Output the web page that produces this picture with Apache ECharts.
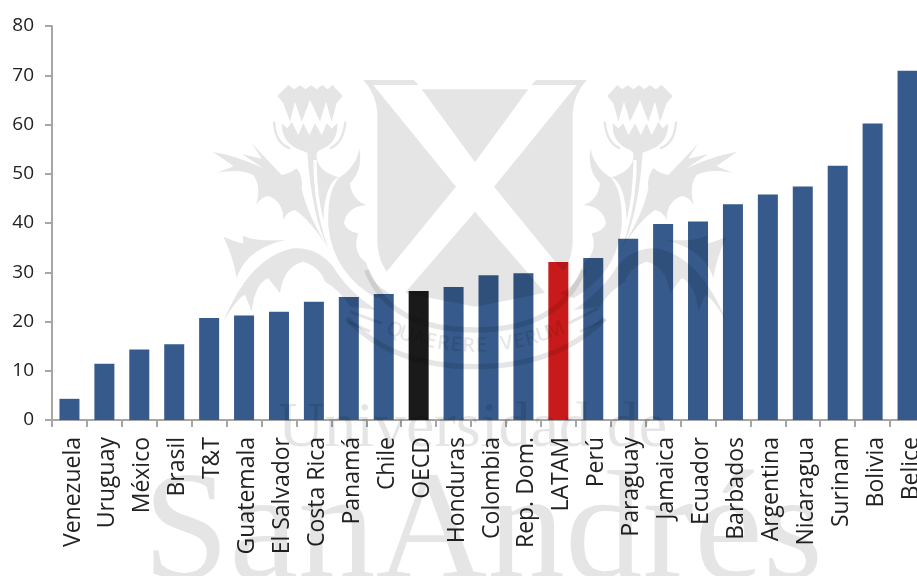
<!DOCTYPE html>
<html><head><meta charset="utf-8">
<style>html,body{margin:0;padding:0;background:#fff;overflow:hidden}#c{width:917px;height:576px}</style>
<script src="https://cdn.jsdelivr.net/npm/echarts@6/dist/echarts.min.js"></script>
</head><body><div id="c"></div>
<script>
const categories = ["Venezuela","Uruguay","México","Brasil","T&T","Guatemala","El Salvador","Costa Rica","Panamá","Chile","OECD","Honduras","Colombia","Rep. Dom.","LATAM","Perú","Paraguay","Jamaica","Ecuador","Barbados","Argentina","Nicaragua","Surinam","Bolivia","Belice"];
const values = [4.3,11.4,14.3,15.4,20.7,21.2,22,24,25,25.6,26.2,27,29.4,29.8,32.1,32.9,36.8,39.8,40.3,43.8,45.8,47.4,51.6,60.2,70.9];
const barColor = "#365a8b", oecdColor = "#1a1a1a", latamColor = "#c81a1a";
const yTicks = {min:0,max:80,interval:10};
const wm = "rgba(0,0,0,0.1)";

/* Watermark artwork (decoration only) */
const shieldPath = "M215 58 L535 58 L375 277 Z "+
  "M40 30 L192 30 L205 45 L70 45 L318 350 L110 605 Q85 570 82 520 L82 130 Q80 75 40 30 Z "+
  "M710 30 L558 30 L545 45 L680 45 L432 350 L640 605 Q665 570 668 520 L668 130 Q670 75 710 30 Z "+
  "M375 425 L165 668 Q270 690 375 710 Q480 690 585 668 Z";
const thistlePath =
  "M232 108 L265 75 L283 88 L300 75 L317 88 L333 75 L350 88 L367 75 L383 88 L398 75 L428 108 L410 130 L395 185 L378 125 L360 185 L330 120 L305 185 L285 125 L270 185 L250 130 Z "+
  "M245 190 L262 205 L275 185 L295 225 L310 190 L328 225 L345 190 L365 225 L380 190 L395 205 L412 190 Q415 250 360 270 L350 278 L322 278 L300 270 Q245 250 245 190 Z "+
  "M322 278 L350 278 Q345 330 415 352 Q375 370 370 480 Q350 400 350 300 L340 300 Q340 440 385 565 Q335 470 322 278 Z "+
  "M38 275 Q120 290 190 325 L125 282 L185 296 L155 250 L245 345 Q270 340 290 325 Q310 350 305 385 Q320 460 385 565 Q330 480 285 450 Q260 455 250 480 Q250 425 205 408 Q185 410 168 435 Q185 380 160 345 Q120 325 50 338 Q90 325 100 318 Z "+
  "M70 530 Q105 545 130 550 L128 525 Q150 545 255 540 Q190 555 150 590 Q120 620 110 655 Q100 590 70 530 Z "+
  "M70 785 Q115 710 135 705 L155 755 Q165 670 205 655 L240 700 Q250 620 310 605 Q360 620 375 665 Q420 690 450 740 L530 750 Q440 690 400 620 Q350 560 280 565 Q150 590 70 785 Z "+
  "M478 265 Q490 330 450 370 Q455 420 500 435 Q440 440 432 490 Q440 515 475 520 Q460 560 480 590 L500 610 Q510 670 570 700 L530 715 Q400 640 385 500 Q380 400 415 355 Q470 320 478 265 Z";
const thistleCurves = "M222 185 Q225 250 270 265 M436 185 Q430 250 390 265";
const ringCurves = "M50 600 Q120 780 375 780 Q630 780 700 600 M-10 745 Q130 890 375 890 Q620 890 765 745";
const ringStripes = "M0 725 L95 760 M-5 755 L60 785 M655 760 L745 715 M690 785 L765 750";
const motto = "QUAERERE VERUM";

const shapes = {wmShield:shieldPath, wmThistle:thistlePath, wmCurves:thistleCurves, wmRing:ringCurves, wmStripes:ringStripes};
Object.keys(shapes).forEach(k => echarts.graphic.registerShape(k, echarts.graphic.extendPath(shapes[k])));

const wmGraphics = [
  {type:'text',z:100,silent:true,left:278,top:397,style:{text:'Universidad de',font:'64px "Liberation Serif"',fill:wm}},
  {type:'text',z:100,silent:true,left:143,top:459,style:{text:'SanAndrés',font:'155px "Liberation Serif"',fill:wm}},
  {type:'wmShield',z:100,silent:true,x:350,y:70,scaleX:1/3,scaleY:1/3,style:{fill:wm,stroke:'none'}},
  {type:'wmThistle',z:100,silent:true,x:200,y:60,scaleX:1/3,scaleY:1/3,style:{fill:wm,stroke:'none'}},
  {type:'wmThistle',z:100,silent:true,x:750,y:60,scaleX:-1/3,scaleY:1/3,style:{fill:wm,stroke:'none'}},
  {type:'wmCurves',z:100,silent:true,x:200,y:60,scaleX:1/3,scaleY:1/3,style:{fill:'none',stroke:wm,lineWidth:7}},
  {type:'wmCurves',z:100,silent:true,x:750,y:60,scaleX:-1/3,scaleY:1/3,style:{fill:'none',stroke:wm,lineWidth:7}},
  {type:'wmRing',z:100,silent:true,x:350,y:70,scaleX:1/3,scaleY:1/3,style:{fill:'none',stroke:wm,lineWidth:16}},
  {type:'wmStripes',z:100,silent:true,x:350,y:70,scaleX:1/3,scaleY:1/3,style:{fill:'none',stroke:wm,lineWidth:9}}
];
const R = 217, cx = 475, cy = 346 - R;
[...motto].forEach((ch,i)=>{
  const a = (i - (motto.length-1)/2) * 0.0585;
  wmGraphics.push({type:'text',z:100,silent:true,
    x:cx+R*Math.sin(a), y:cy+R*Math.cos(a), rotation:a,
    style:{text:ch,font:'600 20px "Open Sans"',fill:wm,align:'center',verticalAlign:'middle'}});
});

const chart = echarts.init(document.getElementById('c'));
chart.setOption({
  animation:false,
  grid:{left:52,top:26,width:873,height:394,outerBoundsMode:'none'},
  xAxis:{type:'category',data:categories,
    axisLine:{lineStyle:{color:'#a6a6a6',width:2}},
    axisTick:{show:true,length:7,lineStyle:{color:'#a6a6a6',width:2}},
    axisLabel:{rotate:90,interval:0,margin:17,verticalAlign:'top',lineHeight:7,fontFamily:'Open Sans',fontSize:23,color:'#222'}},
  yAxis:{type:'value',min:yTicks.min,max:yTicks.max,interval:yTicks.interval,
    axisLine:{show:true,lineStyle:{color:'#a6a6a6',width:2}},
    axisTick:{show:true,length:7,lineStyle:{color:'#a6a6a6',width:2}},
    splitLine:{show:false},
    axisLabel:{margin:18,fontFamily:'Open Sans',fontSize:19,color:'#222'}},
  series:[{type:'bar',barWidth:20,
    data:values.map((v,i)=>({value:v,itemStyle:{color:categories[i]==='OECD'?oecdColor:categories[i]==='LATAM'?latamColor:barColor}}))}],
  graphic:wmGraphics
});
</script></body></html>
